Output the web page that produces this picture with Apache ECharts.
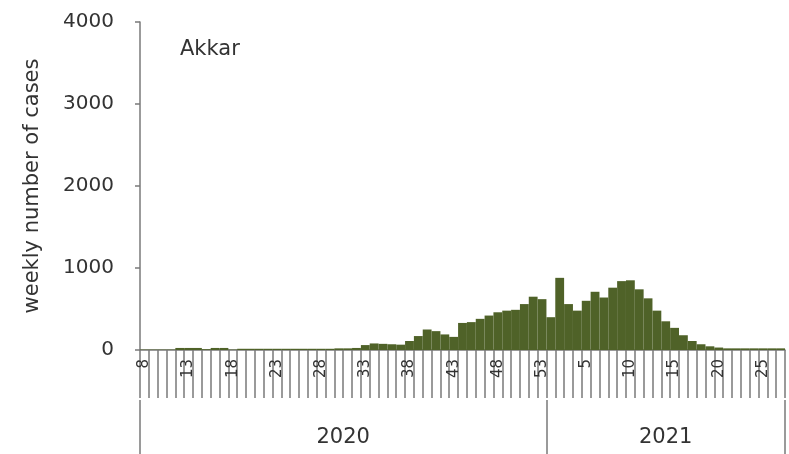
<!DOCTYPE html>
<html>
<head>
<meta charset="utf-8">
<script src="https://cdn.jsdelivr.net/npm/echarts@6/dist/echarts.min.js"></script>
<style>html,body{margin:0;padding:0;background:#fff;}#c{width:789px;height:454px;}</style>
</head>
<body>
<div id="c"></div>
<script>
const weeks2020 = ['8','9','10','11','12','13','14','15','16','17','18','19','20','21','22','23','24','25','26','27','28','29','30','31','32','33','34','35','36','37','38','39','40','41','42','43','44','45','46','47','48','49','50','51','52','53'];
const weeks2021 = ['1','2','3','4','5','6','7','8','9','10','11','12','13','14','15','16','17','18','19','20','21','22','23','24','25','26','27'];
const cases2020 = [5,5,5,5,25,25,25,10,25,25,5,15,15,15,15,15,15,15,15,15,15,15,20,20,25,60,80,75,70,65,110,170,250,230,190,160,330,340,380,420,460,480,490,560,650,620];
const cases2021 = [400,880,560,480,600,710,640,760,840,850,740,630,480,350,270,180,110,70,45,30,20,20,20,20,20,20,20];
const years = ['2020','2021'];
const yTicks = [0,1000,2000,3000,4000];
const regionName = 'Akkar';
const yAxisName = 'weekly number of cases';

const categories = weeks2020.concat(weeks2021);
const values = cases2020.concat(cases2021);
const n2020 = weeks2020.length, nAll = categories.length;
const yearMids = [n2020/2, n2020 + weeks2021.length/2];

const FONT = 'DejaVu Sans';
const TXT = '#333333';
const LINE = '#7a7a7a';

const chart = echarts.init(document.getElementById('c'), null, {renderer:'canvas'});
chart.setOption({
  animation:false,
  backgroundColor:'#fff',
  title:{text:regionName,left:175,top:34,textStyle:{fontFamily:FONT,fontSize:21,fontWeight:'normal',color:TXT}},
  grid:{left:140,right:4,top:22,bottom:104,containLabel:false},
  xAxis:[{
    type:'category',data:categories,boundaryGap:true,
    axisLine:{show:true,lineStyle:{color:LINE,width:1.5}},
    axisTick:{show:true,interval:0,length:48,lineStyle:{color:LINE,width:1.5}},
    axisLabel:{interval:4,rotate:90,margin:9,fontFamily:FONT,fontSize:15,color:TXT},
    splitLine:{show:false}
  },{
    type:'value',min:0,max:nAll,position:'bottom',offset:50,
    axisLine:{show:false},
    axisTick:{show:true,length:54,customValues:[0,n2020,nAll],lineStyle:{color:LINE,width:1.5}},
    axisLabel:{show:true,customValues:yearMids,margin:27,fontFamily:FONT,fontSize:21,color:TXT,
      formatter:function(v){return v<n2020?years[0]:years[1];}},
    splitLine:{show:false}
  }],
  yAxis:{
    type:'value',min:yTicks[0],max:yTicks[yTicks.length-1],interval:1000,
    name:yAxisName,nameLocation:'middle',nameGap:97,
    nameTextStyle:{fontFamily:FONT,fontSize:21,color:TXT},
    axisLine:{show:true,lineStyle:{color:LINE,width:1.5}},
    axisTick:{show:true,length:5,lineStyle:{color:LINE,width:1.5}},
    axisLabel:{margin:26,fontFamily:FONT,fontSize:20,color:TXT,formatter:function(v){return String(v);}},
    splitLine:{show:false}
  },
  series:[{
    type:'bar',data:values,xAxisIndex:0,barCategoryGap:'0%',
    itemStyle:{color:'#4f6228'}
  }]
});
</script>
</body>
</html>
